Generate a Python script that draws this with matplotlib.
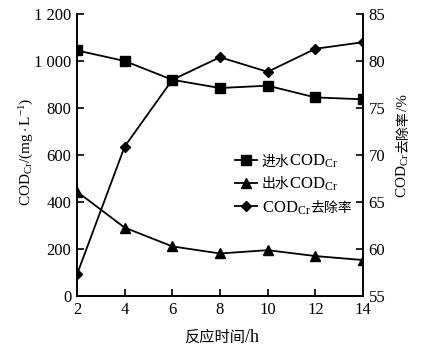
import matplotlib
matplotlib.use("Agg")
import matplotlib.pyplot as plt
from matplotlib.ticker import FuncFormatter
from matplotlib.font_manager import FontProperties

plt.rcParams['font.family'] = ['Liberation Serif', 'Noto Sans CJK SC']
plt.rcParams['mathtext.fontset'] = 'custom'
plt.rcParams['mathtext.rm'] = 'Liberation Serif'
plt.rcParams['mathtext.it'] = 'Liberation Serif:italic'

time_h = [2, 4, 6, 8, 10, 12, 14]
influent = [1045, 1000, 920, 885, 895, 845, 837]
effluent = [444, 291, 211, 181, 195, 170, 153]
removal = [57.3, 70.9, 78.0, 80.4, 78.85, 81.3, 82.0]

left_ticks = [0, 200, 400, 600, 800, 1000, 1200]
right_ticks = [55, 60, 65, 70, 75, 80, 85]
x_ticks = [2, 4, 6, 8, 10, 12, 14]

W, H = 431, 354
COD = r'$\mathrm{COD_{Cr}}$'

def lat(size):
    return FontProperties(family='Liberation Serif', size=size)

def cjk(size):
    return FontProperties(family='Noto Sans CJK SC', size=size)

fig = plt.figure(figsize=(W / 100, H / 100), dpi=100)
ax = fig.add_axes([77 / W, 1 - 296 / H, 286 / W, 282 / H])
ax2 = ax.twinx()

lw = 1.3
l1, = ax.plot(time_h, influent, color='black', lw=lw, marker='s', markersize=7)
l2, = ax.plot(time_h, effluent, color='black', lw=lw, marker='^', markersize=7.5)
l3, = ax2.plot(time_h, removal, color='black', lw=lw, marker='D', markersize=5)

ax.set_xlim(2, 14)
ax.set_ylim(0, 1200)
ax2.set_ylim(55, 85)
ax.set_xticks(x_ticks)
ax.set_yticks(left_ticks)
ax2.set_yticks(right_ticks)

def fmt(v, pos):
    v = int(v)
    if v >= 1000:
        return f"{v // 1000} {v % 1000:03d}"
    return str(v)

ax.yaxis.set_major_formatter(FuncFormatter(fmt))

for a in (ax, ax2):
    a.spines['top'].set_visible(False)
    for s in a.spines.values():
        s.set_linewidth(1.2)
ax.tick_params(axis='both', direction='in', length=5, width=1.2, labelsize=12, pad=4)
ax2.tick_params(axis='y', direction='in', length=5, width=1.2, labelsize=12, pad=4)
ax.tick_params(axis='y', right=False)

# legend: first label segment inside the legend, remaining segments chained after
leg = ax.legend([l1, l2, l3], ['进水', '出水', COD],
                loc='center left', bbox_to_anchor=(0.552, 0.392), frameon=False,
                prop=lat(12), handlelength=1.3, handletextpad=0.3, labelspacing=0.47,
                borderpad=0, borderaxespad=0)
leg.set_zorder(10)
texts = leg.get_texts()
texts[0].set_fontproperties(cjk(10))
texts[1].set_fontproperties(cjk(10))

fig.canvas.draw()
renderer = fig.canvas.get_renderer()

def seg_widths(segs):
    ws = []
    for s, fp in segs:
        t = fig.text(0, 0, s, fontproperties=fp)
        ws.append(t.get_window_extent(renderer).width)
        t.remove()
    return ws

def place(segs, x, y, rotation=0, center=False):
    """x, y in display pixels (origin bottom-left) of the baseline start."""
    ws = seg_widths(segs)
    off = -sum(ws) / 2 if center else 0
    for (s, fp), w in zip(segs, ws):
        px, py = (x + off, y) if rotation == 0 else (x, y + off)
        fig.text(px / W, py / H, s, fontproperties=fp, rotation=rotation,
                 rotation_mode='anchor', ha='left', va='baseline')
        off += w

rest = [[(COD, lat(12))], [(COD, lat(12))], [('去除率', cjk(10))]]
for t, segs in zip(texts, rest):
    bx, by = t.get_transform().transform(t.get_position())
    w = t.get_window_extent(renderer).width
    place(segs, bx + w, by)

# axis labels
fig.text(27 / W, 1 - 152 / H, r'$\mathrm{COD_{Cr}/(mg\cdot L^{-1})}$',
         fontproperties=lat(11), rotation=90, ha='center', va='center')
place([(COD, lat(11)), ('去除率', cjk(10)), ('/%', lat(11))], 407, H - 146,
      rotation=90, center=True)
place([('反应时间', cjk(11)), ('/h', lat(13))], 222, H - 342, center=True)

fig.savefig('out.png', dpi=100)
